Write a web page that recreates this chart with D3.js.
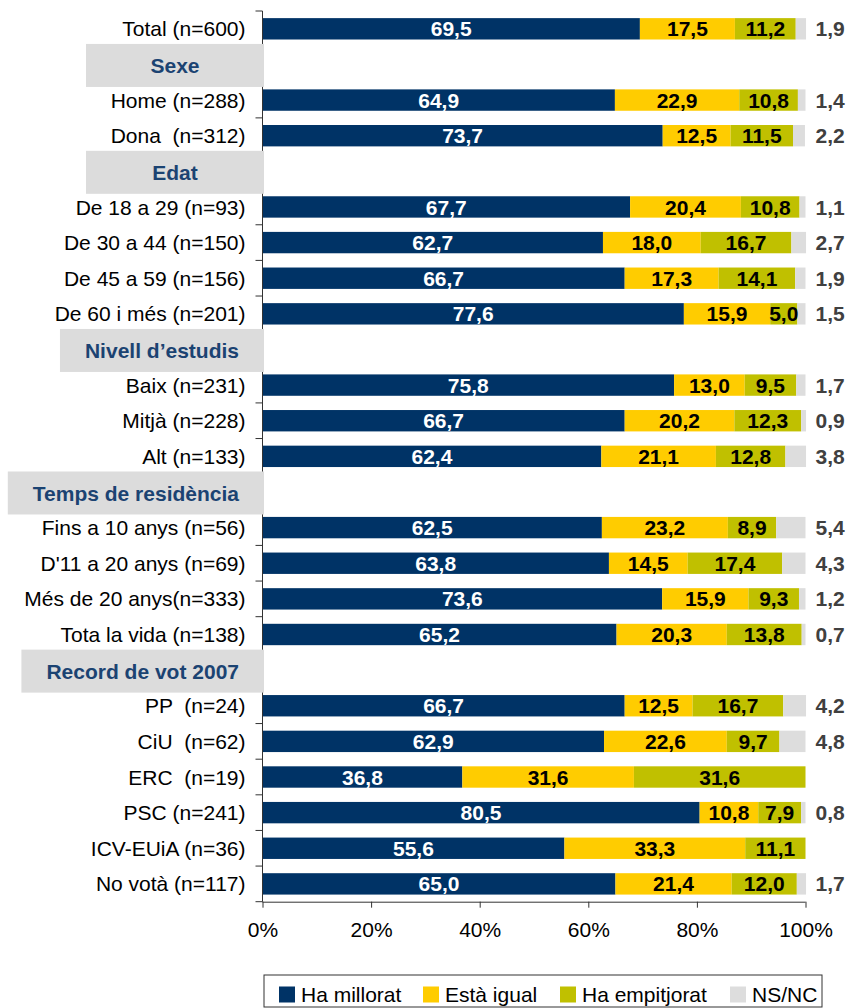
<!DOCTYPE html>
<html>
<head>
<meta charset="utf-8">
<script src="https://cdn.jsdelivr.net/npm/d3@7"></script>
<style>
  body { margin: 0; background: #fff; }
  svg { display: block; font-family: "Liberation Sans", Arial, sans-serif; }
  text { white-space: pre; }
</style>
</head>
<body>
<svg id="chart" width="848" height="1008"></svg>
<script>
"use strict";

// rows from top to bottom, section headers included
var categories = [
  "Total (n=600)",
  "Sexe",
  "Home (n=288)", "Dona  (n=312)",
  "Edat",
  "De 18 a 29 (n=93)", "De 30 a 44 (n=150)", "De 45 a 59 (n=156)", "De 60 i més (n=201)",
  "Nivell d’estudis",
  "Baix (n=231)", "Mitjà (n=228)", "Alt (n=133)",
  "Temps de residència",
  "Fins a 10 anys (n=56)", "D'11 a 20 anys (n=69)", "Més de 20 anys(n=333)", "Tota la vida (n=138)",
  "Record de vot 2007",
  "PP  (n=24)", "CiU  (n=62)", "ERC  (n=19)", "PSC (n=241)", "ICV-EUiA (n=36)", "No votà (n=117)"
];
var headers = ["Sexe", "Edat", "Nivell d’estudis", "Temps de residència", "Record de vot 2007"];

var seriesNames = ["Ha millorat", "Està igual", "Ha empitjorat", "NS/NC"];
var seriesColors = ["#003366", "#ffcc00", "#c0c000", "#dddddd"];

var haMillorat   = [69.5, null, 64.9, 73.7, null, 67.7, 62.7, 66.7, 77.6, null, 75.8, 66.7, 62.4, null, 62.5, 63.8, 73.6, 65.2, null, 66.7, 62.9, 36.8, 80.5, 55.6, 65.0];
var estaIgual    = [17.5, null, 22.9, 12.5, null, 20.4, 18.0, 17.3, 15.9, null, 13.0, 20.2, 21.1, null, 23.2, 14.5, 15.9, 20.3, null, 12.5, 22.6, 31.6, 10.8, 33.3, 21.4];
var haEmpitjorat = [11.2, null, 10.8, 11.5, null, 10.8, 16.7, 14.1, 5.0, null, 9.5, 12.3, 12.8, null, 8.9, 17.4, 9.3, 13.8, null, 16.7, 9.7, 31.6, 7.9, 11.1, 12.0];
var nsnc         = [1.9, null, 1.4, 2.2, null, 1.1, 2.7, 1.9, 1.5, null, 1.7, 0.9, 3.8, null, 5.4, 4.3, 1.2, 0.7, null, 4.2, 4.8, 0, 0.8, 0, 1.7];

var xTicks = [0, 20, 40, 60, 80, 100];

var FONT_SIZE = 21;
var AXIS_COLOR = "#333";
var HEADER_FILL = "#dcdcdc";
var HEADER_TEXT = "#1b4372";

var svg = d3.select("#chart");

var x = d3.scaleLinear().domain([0, 100]).range([262.5, 805.5]);
var y = d3.scaleBand().domain(d3.range(categories.length))
  .range([11, 901.7]).paddingInner(0.4).paddingOuter(0.2);

var rows = categories.map(function (c, i) {
  return { name: c, isHeader: headers.indexOf(c) >= 0, values: [haMillorat[i], estaIgual[i], haEmpitjorat[i], nsnc[i]] };
});

var fmt = function (v) { return d3.format(".1f")(v).replace(".", ","); };

// stacked bars
var stacked = d3.stack()
  .keys([0, 1, 2, 3])
  .value(function (d, k) { return d.isHeader ? 0 : d.values[k]; })(rows);

var barLayer = svg.append("g");
barLayer.selectAll("g.series")
  .data(stacked)
  .enter()
  .append("g")
  .attr("class", "series")
  .attr("fill", function (d, i) { return seriesColors[i]; })
  .each(function (series) {
    d3.select(this).selectAll("rect")
      .data(series.filter(function (d) { return !d.data.isHeader && d[1] > d[0]; }))
      .enter()
      .append("rect")
      .attr("x", function (d) { return x(d[0]); })
      .attr("y", function (d) { return y(rows.indexOf(d.data)); })
      .attr("width", function (d) { return x(d[1]) - x(d[0]); })
      .attr("height", y.bandwidth());
  });

// labels inside the first three segments
var labelLayer = svg.append("g")
  .attr("font-size", FONT_SIZE)
  .attr("font-weight", "bold")
  .attr("text-anchor", "middle");

stacked.slice(0, 3).forEach(function (series, k) {
  labelLayer.selectAll(null)
    .data(series.filter(function (d) { return !d.data.isHeader && d[1] > d[0]; }))
    .enter()
    .append("text")
    .attr("x", function (d) { return x((d[0] + d[1]) / 2); })
    .attr("y", function (d) { return y(rows.indexOf(d.data)) + y.bandwidth() / 2; })
    .attr("dy", "0.36em")
    .attr("fill", k === 0 ? "#fff" : "#000")
    .text(function (d) { return fmt(d.data.values[k]); });
});

// NS/NC values outside the bar
labelLayer.selectAll(null)
  .data(rows.filter(function (d) { return !d.isHeader && d.values[3] > 0; }))
  .enter()
  .append("text")
  .attr("text-anchor", "start")
  .attr("x", x(100) + 10)
  .attr("y", function (d) { return y(rows.indexOf(d)) + y.bandwidth() / 2; })
  .attr("dy", "0.36em")
  .attr("fill", "#404040")
  .text(function (d) { return fmt(d.values[3]); });

// left axis with ticks at band boundaries
var axisLeft = svg.append("g").attr("stroke", AXIS_COLOR).attr("stroke-width", 1);
axisLeft.append("line")
  .attr("x1", x(0)).attr("x2", x(0))
  .attr("y1", y.range()[0]).attr("y2", y.range()[1]);
d3.range(categories.length + 1).forEach(function (i) {
  var yy = y.range()[0] + i * y.step();
  axisLeft.append("line")
    .attr("x1", x(0) - 7).attr("x2", x(0))
    .attr("y1", yy).attr("y2", yy);
});

// bottom axis
var xAxis = svg.append("g")
  .attr("transform", "translate(0," + y.range()[1] + ")")
  .call(d3.axisBottom(x).tickValues(xTicks).tickSize(6).tickPadding(14)
    .tickFormat(function (d) { return d + "%"; }));
xAxis.select(".domain").attr("stroke", AXIS_COLOR).attr("d", "M" + x(0) + ",0.5H" + x(100));
xAxis.selectAll(".tick line").attr("stroke", AXIS_COLOR);
xAxis.selectAll(".tick text")
  .attr("font-size", FONT_SIZE)
  .attr("font-family", "Liberation Sans, Arial, sans-serif")
  .attr("fill", "#000");

// category labels
svg.append("g")
  .attr("font-size", FONT_SIZE)
  .attr("text-anchor", "end")
  .selectAll("text")
  .data(rows.filter(function (d) { return !d.isHeader; }))
  .enter()
  .append("text")
  .attr("x", x(0) - 17)
  .attr("y", function (d) { return y(rows.indexOf(d)) + y.bandwidth() / 2; })
  .attr("dy", "0.36em")
  .attr("fill", "#000")
  .text(function (d) { return d.name; });

// section header boxes, drawn over the axis
var headerGroups = svg.append("g")
  .selectAll("g")
  .data(rows.filter(function (d) { return d.isHeader; }))
  .enter()
  .append("g");

headerGroups.each(function (d) {
  var g = d3.select(this);
  var cy = y(rows.indexOf(d)) + y.bandwidth() / 2 + 1;
  var right = x(0) + 1.5;
  var rect = g.append("rect").attr("fill", HEADER_FILL);
  var label = g.append("text")
    .attr("font-size", FONT_SIZE)
    .attr("font-weight", "bold")
    .attr("fill", HEADER_TEXT)
    .attr("text-anchor", "middle")
    .attr("dy", "0.36em")
    .text(d.name);
  var w = Math.max(178, label.node().getComputedTextLength() + 50);
  rect.attr("x", right - w).attr("y", cy - 21.5).attr("width", w).attr("height", 43);
  label.attr("x", right - w / 2).attr("y", cy);
});

// legend
var legend = svg.append("g").attr("transform", "translate(264,975)");
legend.append("rect")
  .attr("width", 558).attr("height", 32)
  .attr("fill", "#fff").attr("stroke", AXIS_COLOR);
var legendX = [15, 159, 296, 466];
var items = legend.selectAll("g.item")
  .data(seriesNames)
  .enter()
  .append("g")
  .attr("class", "item")
  .attr("transform", function (d, i) { return "translate(" + legendX[i] + ",0)"; });
items.append("rect")
  .attr("y", 11.5).attr("width", 16).attr("height", 16)
  .attr("fill", function (d, i) { return seriesColors[i]; });
items.append("text")
  .attr("x", 22).attr("y", 19)
  .attr("dy", "0.36em")
  .attr("font-size", FONT_SIZE)
  .attr("fill", "#000")
  .text(function (d) { return d; });
</script>
</body>
</html>
